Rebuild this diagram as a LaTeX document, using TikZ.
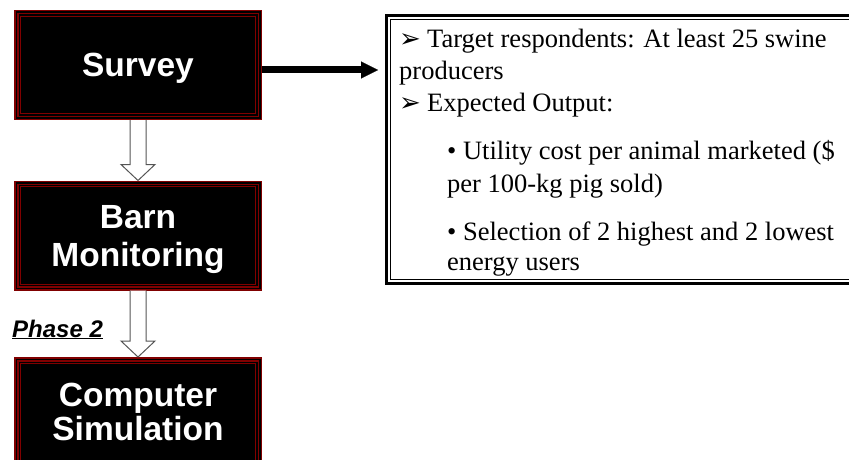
\documentclass[tikz,border=0pt]{standalone}
\usepackage{fontspec}
\setmainfont{Liberation Serif}
\setsansfont{Liberation Sans}
\newfontfamily\symfont{DejaVu Sans}
\usetikzlibrary{arrows.meta,calc,positioning}
\definecolor{boxred}{HTML}{800000}
\definecolor{arrowgray}{HTML}{555555}
\tikzset{
  stagebox/.style={fill=black, draw=boxred, line width=1.5pt, double=black,
    double distance=1.5pt, minimum width=243.5pt, minimum height=105.5pt,
    inner sep=0pt, outer sep=2.25pt, text=white, align=center, text depth=0pt,
    font=\sffamily\bfseries\fontsize{33.5}{38}\selectfont,
    path picture={\draw[boxred, line width=1.2pt]
      ($(path picture bounding box.south west)+(4pt,4pt)$) rectangle
      ($(path picture bounding box.north east)+(-4pt,-4pt)$);}},
  infobox/.style={draw=black, line width=3pt, minimum width=493.5pt,
    minimum height=268pt, inner sep=0pt, outer sep=1.5pt,
    path picture={\draw[black, line width=1pt]
      ($(path picture bounding box.south west)+(4pt,4pt)$) rectangle
      ($(path picture bounding box.north east)+(-4pt,-4pt)$);}},
  infotext/.style={anchor=base west, inner sep=0pt,
    font=\fontsize{26.5}{30}\selectfont},
}
% hollow block arrow between two stacked boxes
\newcommand\hollowarrow[2]{%
  \draw[arrowgray, fill=white, line width=1pt] let \p1=(#1.south), \p2=(#2.north) in
    (\x1-8pt,\y1) -- (\x1-8pt,\y2+16pt) -- (\x1-17pt,\y2+16pt) -- (\x1,\y2)
    -- (\x1+17pt,\y2+16pt) -- (\x1+8pt,\y2+16pt) -- (\x1+8pt,\y1);}
\newcommand\pointer{\makebox[28pt][l]{\symfont\fontsize{26}{26}\selectfont ➢}}
\begin{document}
\begin{tikzpicture}[x=1pt, y=1pt]
\useasboundingbox (0,0) rectangle (849,-460);
\clip (0,0) rectangle (849,-460);
% stages
\node[stagebox] (survey) at (138,-65) {Survey};
\node[stagebox] (barn) at (138,-235.5) {Barn\\Monitoring};
\node[stagebox, font=\sffamily\bfseries\fontsize{33.5}{33.5}\selectfont] (sim) at (138,-412) {Computer\\Simulation};
\hollowarrow{survey}{barn}
\hollowarrow{barn}{sim}
\node[anchor=base west, inner sep=0pt, font=\sffamily\bfseries\itshape\fontsize{24}{26}\selectfont]
  (phase) at (12,-337) {\underline{Phase 2}};
% survey details
\node[infobox] (info) at (633.25,-149.5) {};
\coordinate (armstart) at ([yshift=-5pt]survey.east);
\draw[line width=7pt, -{Triangle[length=17pt, width=17pt, line width=0.1pt]}, shorten >=7pt]
  (armstart) -- (armstart -| info.west);
\node[infotext] (target) at (399,-47.7) {\pointer Target respondents: At least 25 swine};
\node[infotext] (producers) at (399,-80) {producers};
\node[infotext] (output) at (399,-111.7) {\pointer Expected Output:};
\node[infotext] (cost) at (447,-159.3) {• Utility cost per animal marketed (\$};
\node[infotext] (costunit) at (447,-192.7) {per 100-kg pig sold)};
\node[infotext] (users) at (447,-240) {• Selection of 2 highest and 2 lowest};
\node[infotext] (userstail) at (447,-270.7) {energy users};
\end{tikzpicture}
\end{document}
